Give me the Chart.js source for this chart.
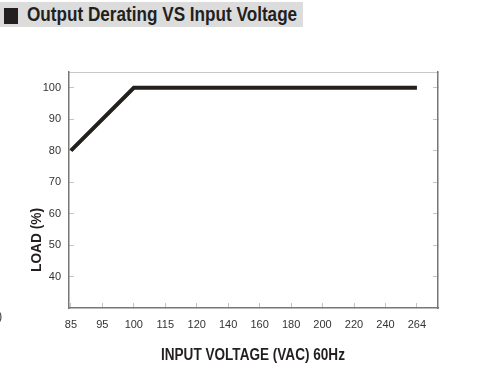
<!DOCTYPE html>
<html>
<head>
<meta charset="utf-8">
<script src="https://cdn.jsdelivr.net/npm/chart.js@4.4.1/dist/chart.umd.min.js"></script>
<style>
  html, body { margin: 0; padding: 0; background: #fff; }
  #wrap { position: relative; width: 490px; height: 368px; overflow: hidden; font-family: "Liberation Sans", Arial, sans-serif; }
  #chart { position: absolute; left: 0; top: 0; }
  .head { position: absolute; left: 0; top: 2px; width: 303px; height: 25px; background: #dcdcdc; }
  .head .sq { position: absolute; left: 4px; top: 6px; width: 14px; height: 16px; background: #231f20; }
  .fit { position: absolute; white-space: nowrap; font-weight: bold; color: #231f20; transform-origin: 0 0; }
  #title { left: 27px; top: 4px; font-size: 20px; line-height: 20px; }
  #xTitle { left: 161px; top: 347px; font-size: 16px; line-height: 16px; }
  #yTitle { left: 28px; top: 272px; font-size: 15px; line-height: 15px; }
  #stray { position: absolute; left: -2px; top: 309px; font-size: 13px; line-height: 13px; color: #444; }
</style>
</head>
<body>
<div id="wrap">
  <canvas id="chart" width="490" height="368"></canvas>
  <div class="head"><div class="sq"></div></div>
  <span class="fit" id="title">Output Derating VS Input Voltage</span>
  <span class="fit" id="xTitle">INPUT VOLTAGE (VAC) 60Hz</span>
  <span class="fit" id="yTitle">LOAD (%)</span>
  <span id="stray">)</span>
</div>
<script>
// data
var voltageLabels = ['85', '95', '100', '115', '120', '140', '160', '180', '200', '220', '240', '264'];
var loadValues = [80, null, 100, null, null, null, null, null, null, null, null, 100];
var loadTicks = [40, 50, 60, 70, 80, 90, 100];

// squeeze the condensed-looking labels to their width in the picture
function fit(id, width, rotate) {
	var el = document.getElementById(id);
	var s = width / el.offsetWidth;
	el.style.transform = rotate ? 'rotate(-90deg) scaleX(' + s + ')' : 'scaleX(' + s + ')';
}
fit('title', 270);
fit('xTitle', 184);
fit('yTitle', 64, true);

var points = [];
loadValues.forEach(function(v, i) {
	if (v !== null) points.push({ x: i, y: v });
});

var tickFont = { family: 'Liberation Sans', size: 11 };

var ctx = document.getElementById('chart').getContext('2d');
new Chart(ctx, {
	type: 'line',
	data: {
		datasets: [{
			data: points,
			borderColor: '#231f1c',
			borderWidth: 4,
			borderJoinStyle: 'miter',
			pointRadius: 0,
			tension: 0,
			clip: false
		}]
	},
	options: {
		responsive: false,
		animation: false,
		layout: { padding: { top: 72, right: 52, left: 0, bottom: 0 } },
		plugins: { legend: { display: false }, tooltip: { enabled: false } },
		scales: {
			x: {
				type: 'linear',
				position: 'bottom',
				min: -0.06,
				max: 11.67,
				afterBuildTicks: function(scale) {
					scale.ticks = voltageLabels.map(function(_, i) { return { value: i }; });
				},
				afterFit: function(scale) { scale.height = 60; },
				ticks: {
					color: '#333',
					font: tickFont,
					padding: 15,
					maxRotation: 0,
					autoSkip: false,
					callback: function(v) { return voltageLabels[v]; }
				},
				grid: { drawOnChartArea: false, tickLength: -5, color: '#c4c4c4' },
				border: { color: '#777', width: 1.5 }
			},
			xTop: {
				type: 'linear',
				position: 'top',
				min: -0.06,
				max: 11.67,
				afterFit: function(scale) { scale.height = 0; },
				ticks: { display: false },
				grid: { display: false },
				border: { color: '#c8c8c8', width: 1 }
			},
			y: {
				position: 'left',
				min: 30,
				max: 105,
				afterBuildTicks: function(scale) {
					scale.ticks = loadTicks.map(function(v) { return { value: v }; });
				},
				afterFit: function(scale) { scale.width = 69; },
				ticks: { color: '#333', font: tickFont, padding: 13 },
				grid: { drawOnChartArea: false, tickLength: -5, color: '#c4c4c4' },
				border: { color: '#777', width: 1.5 }
			},
			yRight: {
				position: 'right',
				min: 30,
				max: 105,
				afterBuildTicks: function(scale) {
					scale.ticks = loadTicks.map(function(v) { return { value: v }; });
				},
				afterFit: function(scale) { scale.width = 0; },
				ticks: { display: false },
				grid: { drawOnChartArea: false, tickLength: -5, color: '#c4c4c4' },
				border: { color: '#777', width: 1.5 }
			}
		}
	}
});
</script>
</body>
</html>
